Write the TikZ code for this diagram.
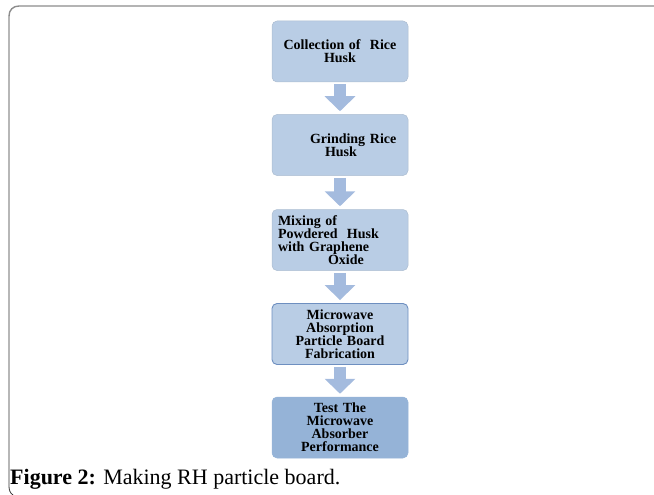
\documentclass[tikz,border=0pt]{standalone}
\usepackage{fontspec}
\setmainfont{Liberation Serif}
\usetikzlibrary{graphs,arrows.meta}
\definecolor{boxblue}{RGB}{185,205,229}
\definecolor{boxdark}{RGB}{149,179,215}
\definecolor{boxedge}{RGB}{110,143,192}
\definecolor{arrowblue}{RGB}{164,187,222}
\definecolor{framegray}{RGB}{140,140,140}

\begin{document}
\begin{tikzpicture}[x=1pt,y=-1pt,
    flowbox/.style={rectangle,rounded corners=5pt,fill=boxblue,
      draw=boxblue!80!gray,line width=0.5pt,
      minimum width=136pt,minimum height=61pt,inner sep=0pt,
      text width=124pt,
      font=\fontsize{14}{13}\selectfont\bfseries},
    flowarrow/.style={draw=arrowblue,line width=12pt,
      shorten <=2pt,shorten >=3pt}]
  \useasboundingbox (0,0) rectangle (654,495);

  % outer frame
  \draw[framegray,line width=1.4pt] (654,6) -- (19,6) .. controls (13,6) and (9,10) .. (9,16);
  \draw[black!80,line width=0.8pt] (9,16) -- (9,486) .. controls (9,490) and (10,493) .. (13,495);

  \node[flowbox,align=center] (collect) at (340,51.5) {Collection of~ Rice\\Husk};
  \node[flowbox,align=left] (grind) at (340,145) {\hspace*{32pt}Grinding Rice\\\hspace*{47pt}Husk};
  \node[flowbox,align=left] (mix) at (340,240) {Mixing of\\Powdered~ Husk\\with Graphene\\\hspace*{50pt}Oxide};
  \node[flowbox,align=center,draw=boxedge,line width=0.9pt] (fab) at (340,334) {Microwave\\Absorption\\Particle Board\\Fabrication};
  \node[flowbox,align=center,fill=boxdark,draw=boxdark] (test) at (340,427.5) {Test The\\Microwave\\Absorber\\Performance};

  \node[anchor=base west,inner sep=0pt,font=\fontsize{22}{26}\selectfont] (caption) at (10,484)
    {\textbf{Figure 2:} Making RH particle board.};

  \graph[edges={flowarrow,>={Triangle[width=30pt,length=15pt]}}]{
    (collect) -> (grind) -> (mix) -> (fab) -> (test)
  };
\end{tikzpicture}
\end{document}
